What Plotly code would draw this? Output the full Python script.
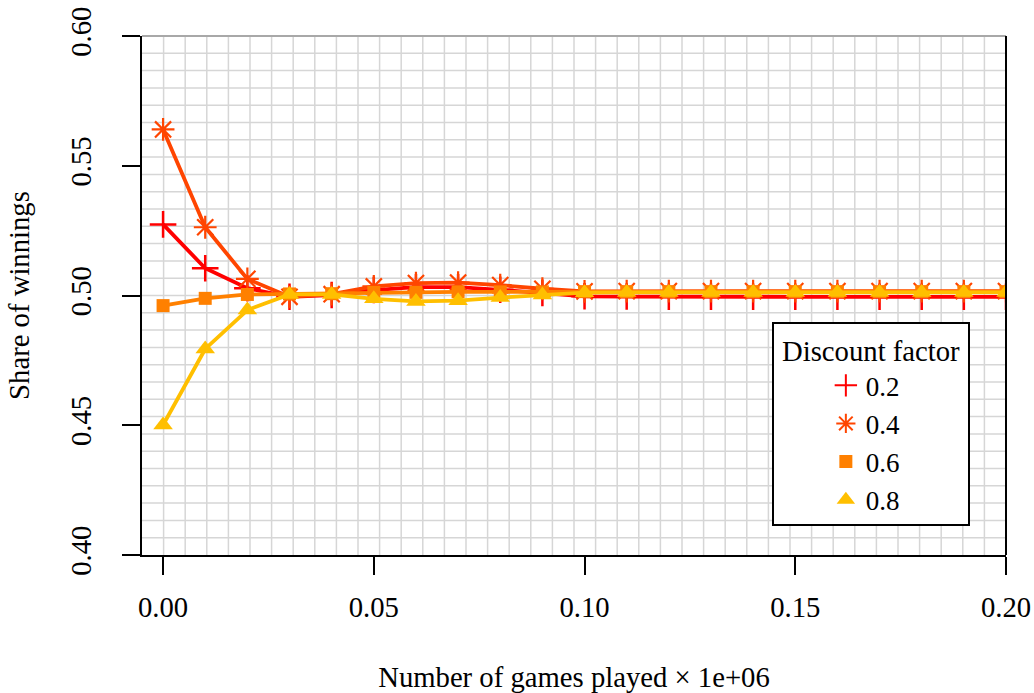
import plotly.graph_objects as go

# Number of games played (in millions)
games = [0.00, 0.01, 0.02, 0.03, 0.04, 0.05, 0.06, 0.07, 0.08, 0.09, 0.10,
         0.11, 0.12, 0.13, 0.14, 0.15, 0.16, 0.17, 0.18, 0.19, 0.20]

# Share of winnings per discount factor
share_02 = [0.5274, 0.5105, 0.5028, 0.4995, 0.5002, 0.5021, 0.5032, 0.5032, 0.5022, 0.5010, 0.4997,
            0.4996, 0.4995, 0.4995, 0.4995, 0.4995, 0.4995, 0.4995, 0.4995, 0.4995, 0.4995]
share_04 = [0.5640, 0.5263, 0.5064, 0.4995, 0.5005, 0.5035, 0.5048, 0.5050, 0.5040, 0.5026, 0.5016,
            0.5017, 0.5017, 0.5017, 0.5017, 0.5017, 0.5017, 0.5017, 0.5017, 0.5017, 0.5017]
share_06 = [0.4961, 0.4989, 0.5004, 0.5006, 0.5007, 0.5012, 0.5012, 0.5014, 0.5014, 0.5014, 0.5015,
            0.5015, 0.5015, 0.5015, 0.5015, 0.5015, 0.5015, 0.5015, 0.5015, 0.5015, 0.5015]
share_08 = [0.4501, 0.4794, 0.4944, 0.5004, 0.5004, 0.4987, 0.4977, 0.4980, 0.4992, 0.5002, 0.5011,
            0.5012, 0.5012, 0.5012, 0.5012, 0.5012, 0.5012, 0.5012, 0.5012, 0.5012, 0.5012]

factor_labels = ["0.2", "0.4", "0.6", "0.8"]
x_ticks = [0.00, 0.05, 0.10, 0.15, 0.20]
y_ticks = [0.40, 0.45, 0.50, 0.55, 0.60]

X_RANGE = [-0.005, 0.2]
Y_RANGE = [0.40, 0.60]
FONT = "Liberation Serif, Times New Roman, serif"
FS = 28.7

styles = [
    dict(color="#FF0000", symbol="cross-thin", size=19, lw=2.5),
    dict(color="#FF4500", symbol="asterisk-open", size=19, lw=2.2),
    dict(color="#FF8000", symbol="square", size=13, lw=0),
    dict(color="#FFBF00", symbol="triangle-up", size=17, lw=0),
]
series = [share_02, share_04, share_06, share_08]

fig = go.Figure()

for vals, st in zip(series, styles):
    marker = dict(symbol=st["symbol"], size=st["size"], color=st["color"])
    if st["lw"]:
        marker["line"] = dict(color=st["color"], width=st["lw"])
    fig.add_trace(go.Scatter(
        x=games, y=vals, mode="lines+markers",
        line=dict(color=st["color"], width=3.8),
        marker=marker, showlegend=False, hoverinfo="skip",
    ))

# marker-only legend entries
for name, st in zip(factor_labels, styles):
    marker = dict(symbol=st["symbol"], size=min(st["size"], 16), color=st["color"])
    if st["lw"]:
        marker["line"] = dict(color=st["color"], width=2)
    fig.add_trace(go.Scatter(x=[None], y=[None], mode="markers", name=name,
                             marker=marker, showlegend=True))

# background grid: 40 x 30 equal divisions of the plotting region
shapes = []
nx, ny = 40, 30
for k in range(1, nx):
    xv = X_RANGE[0] + k * (X_RANGE[1] - X_RANGE[0]) / nx
    shapes.append(dict(type="line", xref="x", yref="paper", x0=xv, x1=xv, y0=0, y1=1,
                       line=dict(color="#d6d6d6", width=1.5), layer="below"))
for k in range(1, ny):
    yv = Y_RANGE[0] + k * (Y_RANGE[1] - Y_RANGE[0]) / ny
    shapes.append(dict(type="line", xref="paper", yref="y", x0=0, x1=1, y0=yv, y1=yv,
                       line=dict(color="#d6d6d6", width=1.5), layer="below"))
# top edge (grey) and right edge (black)
shapes.append(dict(type="line", xref="paper", yref="paper", x0=0, x1=1, y0=1, y1=1,
                   line=dict(color="#a8a8a8", width=2), layer="below"))
shapes.append(dict(type="line", xref="paper", yref="paper", x0=1, x1=1, y0=0, y1=1,
                   line=dict(color="black", width=2)))

fig.update_layout(
    width=1034, height=693,
    margin=dict(l=142, r=28, t=36, b=138),
    paper_bgcolor="white", plot_bgcolor="white",
    font=dict(family=FONT, size=FS, color="black"),
    shapes=shapes,
    xaxis=dict(
        range=X_RANGE, tickvals=x_ticks, ticktext=[f"{v:.2f}" for v in x_ticks],
        showgrid=False, zeroline=False, automargin=False,
        showline=True, linecolor="black", linewidth=2,
        ticks="outside", ticklen=18, tickwidth=2, tickcolor="black",
        ticklabelstandoff=8,
        title=dict(text="Number of games played × 1e+06", standoff=48,
                   font=dict(size=FS)),
    ),
    yaxis=dict(
        range=Y_RANGE, tickvals=y_ticks, ticktext=[f"{v:.2f}" for v in y_ticks],
        showgrid=False, zeroline=False, automargin=False,
        showline=True, linecolor="black", linewidth=2,
        ticks="outside", ticklen=18, tickwidth=2, tickcolor="black",
        tickangle=-90, ticklabelstandoff=20,
        title=dict(text="Share of winnings", standoff=26, font=dict(size=FS)),
    ),
    legend=dict(
        x=0.729, y=0.449, xanchor="left", yanchor="top",
        bgcolor="white", bordercolor="black", borderwidth=2,
        font=dict(size=27),
        title=dict(text="\u2009Discount factor\u2009", side="top center", font=dict(size=FS)),
        indentation=52,
    ),
)

fig.write_html("out.html")
